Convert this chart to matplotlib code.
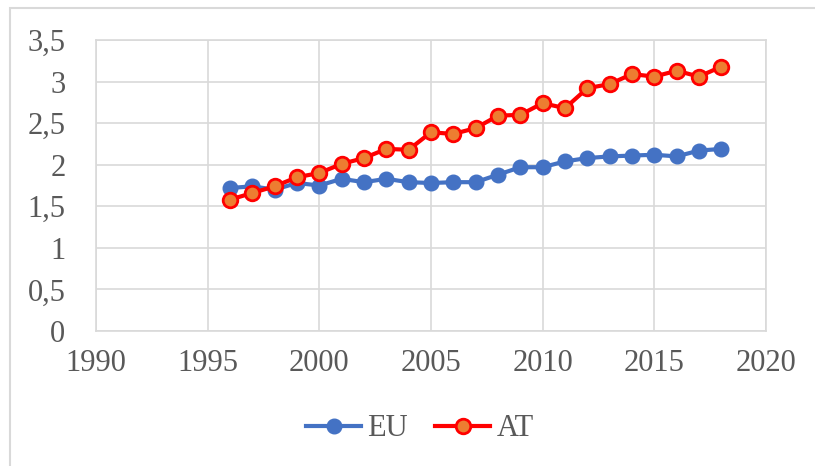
import matplotlib.pyplot as plt
from matplotlib.ticker import FuncFormatter
from matplotlib.patches import Rectangle

years = list(range(1996, 2019))
eu = [1.72, 1.74, 1.70, 1.78, 1.75, 1.83, 1.79, 1.83, 1.79, 1.78, 1.79, 1.79,
      1.88, 1.97, 1.97, 2.04, 2.08, 2.10, 2.11, 2.12, 2.10, 2.17, 2.19]
at = [1.58, 1.66, 1.74, 1.85, 1.90, 2.01, 2.08, 2.19, 2.18, 2.39, 2.37, 2.44,
      2.59, 2.60, 2.74, 2.68, 2.92, 2.97, 3.09, 3.06, 3.13, 3.06, 3.18]

plt.rcParams['font.family'] = ['Liberation Serif', 'DejaVu Serif']

fig = plt.figure(figsize=(8.15, 4.66), dpi=100)
ax = fig.add_axes([96 / 815, 1 - 331 / 466, (766 - 96) / 815, (331 - 40) / 466])

ax.plot(years, eu, color='#4472C4', lw=3, marker='o', ms=10.5,
        markerfacecolor='#4472C4', markeredgecolor='#4472C4', label='EU', zorder=3)
ax.plot(years, at, color='#FF0000', lw=3, marker='o', ms=10.5,
        markerfacecolor='#ED7D31', markeredgecolor='#FF0000', mew=2, label='AT', zorder=4)

ax.set_xlim(1990, 2020)
ax.set_ylim(0, 3.5)
ax.set_xticks(range(1990, 2021, 5))
ax.set_yticks([0, 0.5, 1, 1.5, 2, 2.5, 3, 3.5])
ax.yaxis.set_major_formatter(FuncFormatter(lambda v, p: ('%g' % v).replace('.', ',')))
ax.grid(True, color='#d9d9d9', lw=1.2)
ax.set_axisbelow(True)
for s in ax.spines.values():
    s.set_color('#d9d9d9')
    s.set_linewidth(1.2)
ax.tick_params(length=0, labelsize=22, colors='#595959')
ax.tick_params(axis='y', pad=22)
ax.tick_params(axis='x', pad=13)

leg = ax.legend(loc='center', bbox_to_anchor=(420 / 815, 1 - 429 / 466),
                bbox_transform=fig.transFigure, ncol=2, frameon=False,
                fontsize=22, handlelength=1.8, columnspacing=0.9, handletextpad=0.2)
for t in leg.get_texts():
    t.set_color('#595959')

fig.patches.append(Rectangle((10 / 815, -0.1), 1.0, 1 - 8 / 466 + 0.1,
                             transform=fig.transFigure, fill=False,
                             edgecolor='#d9d9d9', lw=1.5))

fig.savefig('out.png', dpi=100)
